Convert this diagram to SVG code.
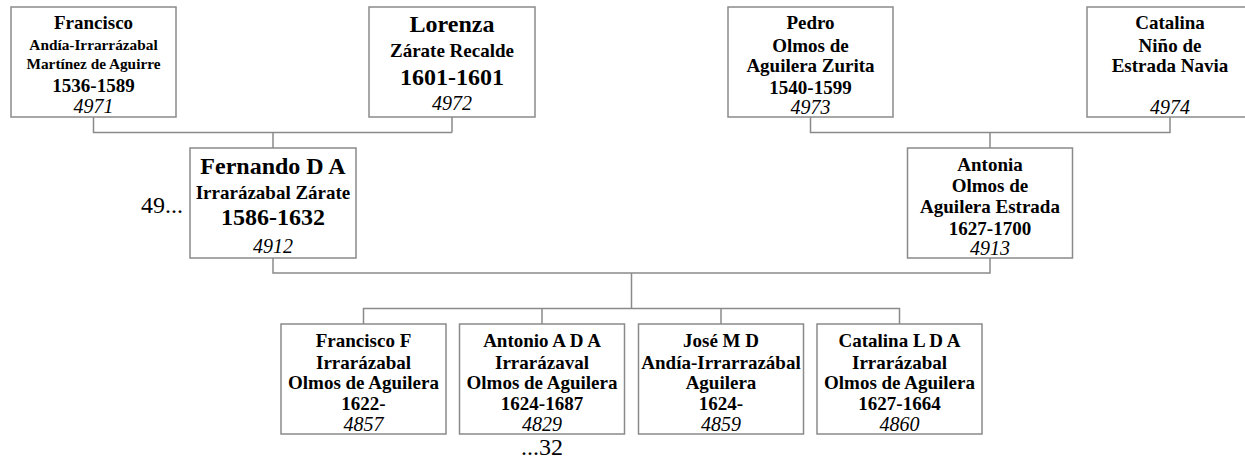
<svg xmlns="http://www.w3.org/2000/svg" width="1245" height="459" viewBox="0 0 1245 459">
<style>
.box{fill:#fff;stroke:#8a8a8a;stroke-width:1.5}
.ln{fill:none;stroke:#8a8a8a;stroke-width:1.5}
text{font-family:"Liberation Serif","Times New Roman",serif;fill:#000;text-anchor:middle}
.b{font-weight:bold}
.i{font-style:italic;font-size:20px}
.s19{font-size:19px}
.s15{font-size:15.3px}
.s24{font-size:24px}
.r{font-size:24px}
</style>
<rect x="0" y="0" width="1245" height="459" fill="#fff"/>
<g id="connectors">
<path class="ln" d="M93.5 117 V132.5 H452"/>
<path class="ln" d="M452 117 V132.5"/>
<path class="ln" d="M273 132.5 V148"/>
<path class="ln" d="M810.5 117 V132.5 H1170 V117"/>
<path class="ln" d="M990 132.5 V148"/>
<path class="ln" d="M273 258 V273 H990 V258"/>
<path class="ln" d="M631.5 273 V308.5"/>
<path class="ln" d="M363.5 324 V308.5 H899.5 V324"/>
<path class="ln" d="M542 308.5 V324"/>
<path class="ln" d="M721 308.5 V324"/>
</g>
<g id="n4971">
<rect class="box" x="11" y="7" width="165" height="110"/>
<text class="b s19" x="93.5" y="28.5">Francisco</text>
<text class="b s15" x="93.5" y="49.5">Andía-Irrarrázabal</text>
<text class="b s15" x="93.5" y="68.5">Martínez de Aguirre</text>
<text class="b s19" x="93.5" y="91.5">1536-1589</text>
<text class="i" x="93.5" y="112.5">4971</text>
</g>
<g id="n4972">
<rect class="box" x="369" y="7" width="166" height="110"/>
<text class="b s24" x="452" y="31.5">Lorenza</text>
<text class="b s19" x="452" y="56.5">Zárate Recalde</text>
<text class="b s24" x="452" y="85">1601-1601</text>
<text class="i" x="452" y="110">4972</text>
</g>
<g id="n4973">
<rect class="box" x="728" y="7" width="165" height="110"/>
<text class="b s19" x="810.5" y="28.5">Pedro</text>
<text class="b s19" x="810.5" y="51.5">Olmos de</text>
<text class="b s19" x="810.5" y="72">Aguilera Zurita</text>
<text class="b s19" x="810.5" y="93.5">1540-1599</text>
<text class="i" x="810.5" y="114">4973</text>
</g>
<g id="n4974">
<rect class="box" x="1087" y="7" width="165" height="110"/>
<text class="b s19" x="1170" y="28.5">Catalina</text>
<text class="b s19" x="1170" y="51.5">Niño de</text>
<text class="b s19" x="1170" y="72">Estrada Navia</text>
<text class="i" x="1170" y="114">4974</text>
</g>
<g id="n4912">
<rect class="box" x="190" y="148" width="166" height="110"/>
<text class="b s24" x="273" y="173.5">Fernando D A</text>
<text class="b s19" x="273" y="199">Irrarázabal Zárate</text>
<text class="b s24" x="273" y="225">1586-1632</text>
<text class="i" x="273" y="252.5">4912</text>
</g>
<text class="r" x="183" y="213" style="text-anchor:end">49...</text>
<g id="n4913">
<rect class="box" x="907.5" y="148" width="165" height="110"/>
<text class="b s19" x="990" y="171">Antonia</text>
<text class="b s19" x="990" y="192">Olmos de</text>
<text class="b s19" x="990" y="213">Aguilera Estrada</text>
<text class="b s19" x="990" y="234.5">1627-1700</text>
<text class="i" x="990" y="255">4913</text>
</g>
<g id="n4857">
<rect class="box" x="281" y="324" width="165" height="110"/>
<text class="b s19" x="363.5" y="347">Francisco F</text>
<text class="b s19" x="363.5" y="368.5">Irrarázabal</text>
<text class="b s19" x="363.5" y="389">Olmos de Aguilera</text>
<text class="b s19" x="363.5" y="410">1622-</text>
<text class="i" x="363.5" y="431">4857</text>
</g>
<g id="n4829">
<rect class="box" x="459.5" y="324" width="165" height="110"/>
<text class="b s19" x="542" y="347">Antonio A D A</text>
<text class="b s19" x="542" y="368.5">Irrarázaval</text>
<text class="b s19" x="542" y="389">Olmos de Aguilera</text>
<text class="b s19" x="542" y="410">1624-1687</text>
<text class="i" x="542" y="431">4829</text>
</g>
<text class="r" x="542" y="455">...32</text>
<g id="n4859">
<rect class="box" x="638.5" y="324" width="165" height="110"/>
<text class="b s19" x="721" y="347">José M D</text>
<text class="b s19" x="721" y="368.5">Andía-Irrarrazábal</text>
<text class="b s19" x="721" y="389">Aguilera</text>
<text class="b s19" x="721" y="410">1624-</text>
<text class="i" x="721" y="431">4859</text>
</g>
<g id="n4860">
<rect class="box" x="817" y="324" width="165" height="110"/>
<text class="b s19" x="899.5" y="347">Catalina L D A</text>
<text class="b s19" x="899.5" y="368.5">Irrarázabal</text>
<text class="b s19" x="899.5" y="389">Olmos de Aguilera</text>
<text class="b s19" x="899.5" y="410">1627-1664</text>
<text class="i" x="899.5" y="431">4860</text>
</g>
</svg>
